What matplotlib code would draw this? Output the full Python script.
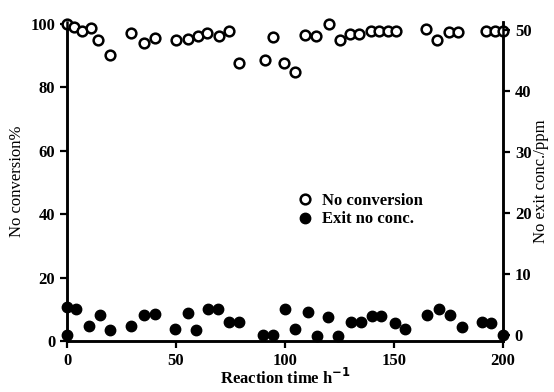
import matplotlib
matplotlib.use("Agg")
import matplotlib.pyplot as plt

# NO conversion (%) - open circles, left axis
conv_time = [0, 3.2, 6.7, 11, 14, 19.5, 29.4, 35.3, 40.5, 50.1, 55.5, 60, 64, 69.6,
             74.5, 78.8, 90.6, 94.7, 99.6, 104.8, 109.3, 114.3, 120, 125, 129.7,
             133.8, 139.3, 143.1, 147.1, 151.1, 164.6, 169.8, 175.3, 179.4,
             192.2, 196.3, 200]
conv_pct = [100, 98.9, 97.7, 98.6, 94.7, 90, 97, 93.9, 95.4, 94.9, 95.2, 96.2, 96.9,
            96.2, 97.8, 87.6, 88.4, 95.8, 87.6, 84.6, 96.5, 96.1, 99.8, 94.7, 96.8,
            96.8, 97.8, 97.8, 97.8, 97.8, 98.3, 94.7, 97.3, 97.3, 97.7, 97.7, 97.7]

# exit NO concentration (ppm) - filled dots, right axis
exit_time = [0, 0, 4.3, 10, 15, 19.5, 29.4, 35.3, 40.5, 49.5, 55.6, 59.3, 64.8, 69.3,
             74.5, 78.8, 90.1, 94.6, 100, 104.8, 110.5, 114.8, 119.7, 124.3, 130.4,
             134.7, 140, 144.2, 150.3, 155.2, 165.2, 170.6, 175.6, 181.3, 190.5,
             194.5, 200]
exit_ppm = [0, 4.5, 4.2, 1.4, 3.3, 0.8, 1.4, 3.3, 3.4, 1.0, 3.6, 0.8, 4.2, 4.2,
            2.2, 2.2, 0, 0, 4.2, 0.9, 3.7, -0.1, 2.9, -0.2, 2.1, 2.1, 3.1, 3.1, 1.9,
            1.0, 3.3, 4.2, 3.2, 1.3, 2.1, 1.9, 0]

x_ticks = [0, 50, 100, 150, 200]
left_ticks = [0, 20, 40, 60, 80, 100]
right_ticks = [0, 10, 20, 30, 40, 50]

plt.rcParams["font.family"] = ["Liberation Serif", "DejaVu Serif"]
plt.rcParams["font.size"] = 12
plt.rcParams["font.weight"] = "bold"
plt.rcParams["mathtext.default"] = "bf"

fig = plt.figure(figsize=(5.54, 3.92), dpi=100)
ax = fig.add_axes([0.121, 0.130, 0.787, 0.814])
ax2 = ax.twinx()

l1, = ax.plot(conv_time, conv_pct, "o", ms=7, mfc="white", mec="black", mew=1.8,
              clip_on=False, label="No conversion", zorder=3)
l2, = ax2.plot(exit_time, exit_ppm, "o", ms=7.5, color="black",
               clip_on=False, label="Exit no conc.", zorder=3)

ax.set_xlim(0, 200)
ax.set_ylim(0, 100.5)
ax2.set_ylim(-1, 51.3)
ax.set_xticks(x_ticks)
ax.set_yticks(left_ticks)
ax2.set_yticks(right_ticks)

for a in (ax, ax2):
    a.spines["top"].set_visible(False)
    for s in ("left", "right", "bottom"):
        a.spines[s].set_linewidth(1.8)
    a.tick_params(width=1.6, length=5, direction="out", labelsize=12)

ax.set_xlabel(r"Reaction time h$^{-1}$", fontsize=12, fontweight="bold", labelpad=-1)
ax.set_ylabel("No conversion%", fontsize=12, fontweight="normal", labelpad=4)
ax2.set_ylabel("No exit conc./ppm", fontsize=12, fontweight="normal", labelpad=1)

ax2.legend(handles=[l1, l2], loc="upper left", bbox_to_anchor=(0.536, 0.508),
           bbox_transform=fig.transFigure, frameon=False, borderpad=0,
           borderaxespad=0, handlelength=1, handletextpad=0.5, labelspacing=0.15,
           fontsize=12)

fig.savefig("out.png", dpi=100)
